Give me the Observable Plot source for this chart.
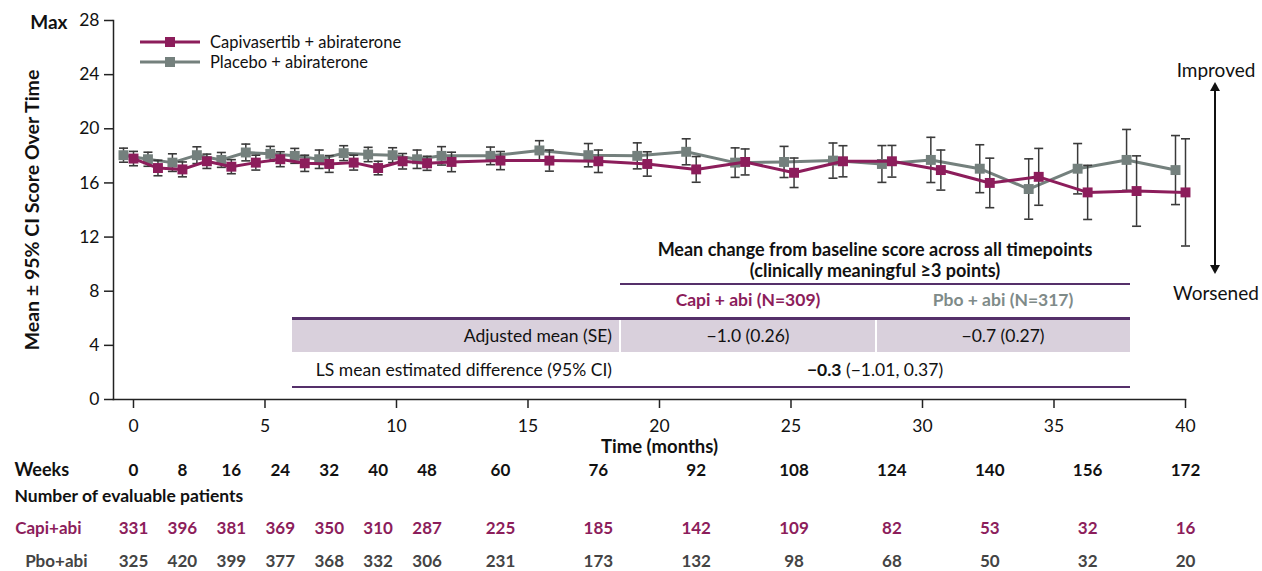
<!DOCTYPE html>
<html><head><meta charset="utf-8">
<script src="https://cdn.jsdelivr.net/npm/d3@7"></script>
<script src="https://cdn.jsdelivr.net/npm/@observablehq/plot@0.6"></script>
<style>
body{margin:0;background:#fff;font-family:Lato,"Open Sans",sans-serif;color:#111;}
#wrap{position:relative;width:1262px;height:571px;overflow:hidden;}
#wrap > svg{position:absolute;left:0;top:0;}
.abs{position:absolute;}
.c{text-align:center;}
</style></head><body><div id="wrap"></div>
<script>
// ---- data ----
const weeks = [0,4,8,12,16,20,24,28,32,36,40,44,48,52,60,68,76,84,92,100,108,116,124,132,140,148,156,164,172];
const capiMean = [17.8,17.1,17.0,17.6,17.2,17.5,17.75,17.45,17.4,17.5,17.1,17.6,17.45,17.55,17.65,17.65,17.6,17.4,17.0,17.55,16.75,17.6,17.6,16.95,16.0,16.45,15.3,15.4,15.3];
const capiHalfCI = [0.53,0.57,0.55,0.53,0.52,0.55,0.55,0.6,0.62,0.55,0.5,0.57,0.52,0.72,0.67,0.78,0.83,0.9,0.95,0.96,1.09,1.15,1.17,1.48,1.83,2.1,2.0,2.6,3.96];
const pboMean = [18.05,17.75,17.5,18.05,17.7,18.25,18.15,18.0,17.75,18.2,18.1,18.05,17.75,18.0,18.0,18.4,18.05,18.0,18.3,17.5,17.55,17.65,17.4,17.7,17.05,15.55,17.05,17.7,16.95];
const pboHalfCI = [0.52,0.52,0.65,0.62,0.55,0.62,0.55,0.55,0.68,0.55,0.53,0.55,0.68,0.68,0.65,0.72,0.86,0.96,0.96,1.09,1.15,1.3,1.36,1.67,1.77,2.23,1.86,2.25,2.55];

const xTicks = [0,5,10,15,20,25,30,35,40];
const yTicks = [0,4,8,12,16,20,24,28];
const labelWeeks = [0,8,16,24,32,40,48,60,76,92,108,124,140,156,172];
const capiN = [331,396,381,369,350,310,287,225,185,142,109,82,53,32,16];
const pboN = [325,420,399,377,368,332,306,231,173,132,98,68,50,32,20];

const seriesNames = ["Capivasertib + abiraterone","Placebo + abiraterone"];
const tableTitle = ["Mean change from baseline score across all timepoints","(clinically meaningful ≥3 points)"];
const tableGroups = ["Capi + abi (N=309)","Pbo + abi (N=317)"];
const tableRowLabels = ["Adjusted mean (SE)","LS mean estimated difference (95% CI)"];
const adjustedMean = ["−1.0 (0.26)","−0.7 (0.27)"];
const lsDiffEstimate = "−0.3";
const lsDiffCI = "(−1.01, 0.37)";

// ---- styles ----
const MAGENTA = "#8c1d5b", GREY = "#74807d", BAR = "#3a3a3a", PURPLE = "#55306a";
const WEEKS_PER_MONTH = 4.3;
const FS = 17;

const rows = (means, cis) => weeks.map((w,i)=>({month: w/WEEKS_PER_MONTH, mean: means[i], lo: means[i]-cis[i], hi: means[i]+cis[i]}));
const capi = rows(capiMean, capiHalfCI);
const pbo = rows(pboMean, pboHalfCI);

const cap = {draw(ctx){ ctx.moveTo(-4.5,0); ctx.lineTo(4.5,0); }};

function seriesMarks(data, color, dx){
  return [
    Plot.ruleX(data, {x:"month", y1:"lo", y2:"hi", stroke:BAR, strokeWidth:1.5, dx}),
    Plot.dot(data, {x:"month", y:"lo", symbol:cap, r:4, stroke:BAR, strokeWidth:1.6, fill:"none", dx}),
    Plot.dot(data, {x:"month", y:"hi", symbol:cap, r:4, stroke:BAR, strokeWidth:1.6, fill:"none", dx}),
    Plot.line(data, {x:"month", y:"mean", stroke:color, strokeWidth:3, dx}),
    Plot.dot(data, {x:"month", y:"mean", symbol:"square", r:5.6, fill:color, stroke:"none", dx})
  ];
}

const wk = labelWeeks.map((w,i)=>({month:w/WEEKS_PER_MONTH, w, c:capiN[i], p:pboN[i]}));
const lab = (t, o) => Plot.text([t], {text:d=>d, lineAnchor:"middle", fontWeight:"bold", fontSize:FS, ...o});

const chart = Plot.plot({
  width:1262, height:571,
  marginLeft:113, marginRight:77, marginTop:20, marginBottom:172,
  x:{domain:[-0.76,40]},
  y:{domain:[0,28]},
  style:{fontFamily:"Lato, 'Open Sans', sans-serif", fontSize:"17px", color:"#111", background:"transparent", overflow:"visible"},
  marks:[
    Plot.axisY({ticks:yTicks, tickSize:9, tickPadding:5, fontSize:17.5, label:null, stroke:"#222", strokeWidth:1.5}),
    Plot.axisX({ticks:xTicks, tickSize:9, tickPadding:11, fontSize:17.5, label:null, stroke:"#222", strokeWidth:1.5}),
    Plot.frame({anchor:"left", stroke:"#222", strokeWidth:1.5}),
    Plot.frame({anchor:"bottom", stroke:"#222", strokeWidth:1.5}),
    ...seriesMarks(pbo, GREY, -10),
    ...seriesMarks(capi, MAGENTA, 0),
    lab("Max", {frameAnchor:"top-left", dx:-46, dy:2, textAnchor:"end", fontSize:19}),
    lab("Mean ± 95% CI Score Over Time", {frameAnchor:"left", dx:-81, rotate:-90, textAnchor:"middle", fontSize:19.5}),
    lab("Time (months)", {frameAnchor:"bottom", dx:10, dy:48, textAnchor:"middle", fontSize:18.5}),
    lab("Weeks", {frameAnchor:"bottom-left", dx:-99, dy:71, textAnchor:"start", fontSize:18}),
    lab("Number of evaluable patients", {frameAnchor:"bottom-left", dx:-99, dy:97, textAnchor:"start", fontSize:17.5}),
    lab("Capi+abi", {frameAnchor:"bottom-left", dx:-32, dy:129, textAnchor:"end", fill:MAGENTA}),
    lab("Pbo+abi", {frameAnchor:"bottom-left", dx:-26, dy:162, textAnchor:"end", fill:"#444"}),
    Plot.text(wk, {x:"month", frameAnchor:"bottom", lineAnchor:"middle", text:"w", dy:71, fontWeight:"bold", fontSize:FS, fill:"#111"}),
    Plot.text(wk, {x:"month", frameAnchor:"bottom", lineAnchor:"middle", text:"c", dy:129, fontWeight:"bold", fontSize:FS, fill:MAGENTA}),
    Plot.text(wk, {x:"month", frameAnchor:"bottom", lineAnchor:"middle", text:"p", dy:162, fontWeight:"bold", fontSize:FS, fill:"#444"})
  ]
});
const wrap = document.getElementById("wrap");
wrap.appendChild(chart);

function el(html){ const d=document.createElement("div"); d.innerHTML=html; const n=d.firstElementChild; wrap.appendChild(n); return n; }

// legend
const legColors = [MAGENTA, GREY];
seriesNames.forEach((name,i)=>{
  el(`<div class="abs" style="left:140px;top:32px;height:20px;display:flex;align-items:center;transform:translateY(${i*20}px)">
    <svg width="62" height="14" style="display:block"><line x1="0" y1="7" x2="60" y2="7" stroke="${legColors[i]}" stroke-width="3"/><rect x="25" y="2" width="10" height="10" fill="${legColors[i]}"/></svg>
    <span style="margin-left:8px;font-size:16.5px;">${name}</span></div>`);
});

// improved / worsened
el(`<div class="abs c" style="left:1156px;width:120px;top:58px;font-size:19px;line-height:24px;">Improved</div>`);
el(`<div class="abs c" style="left:1156px;width:120px;top:281px;font-size:19px;line-height:24px;">Worsened</div>`);
el(`<svg class="abs" style="left:1205px;top:82px" width="20" height="192"><line x1="10" y1="6" x2="10" y2="186" stroke="#111" stroke-width="2"/><polygon points="10,0 5,9 15,9" fill="#111"/><polygon points="10,192 5,183 15,183" fill="#111"/></svg>`);

// summary table
el(`<div class="abs c" style="left:620px;width:510px;top:239px;font-size:18px;font-weight:bold;line-height:21px;white-space:nowrap;">${tableTitle[0]}<br>${tableTitle[1]}</div>`);
el(`<div class="abs" style="left:620px;width:510px;top:283px;height:2px;background:${PURPLE};"></div>`);
el(`<div class="abs c" style="left:620px;width:256px;top:288px;font-size:17.5px;font-weight:bold;line-height:24px;color:${MAGENTA};">${tableGroups[0]}</div>`);
el(`<div class="abs c" style="left:876px;width:254px;top:288px;font-size:17.5px;font-weight:bold;line-height:24px;color:#7f8b89;">${tableGroups[1]}</div>`);
el(`<div class="abs" style="left:292px;width:838px;top:317px;height:3px;background:${PURPLE};"></div>`);
el(`<div class="abs" style="left:292px;width:838px;top:320px;height:32px;background:#d9d0dc;"></div>`);
el(`<div class="abs" style="left:619px;width:2px;top:320px;height:32px;background:#fff;"></div>`);
el(`<div class="abs" style="left:875px;width:2px;top:320px;height:32px;background:#fff;"></div>`);
el(`<div class="abs" style="left:292px;width:320px;top:324px;font-size:17.5px;line-height:24px;text-align:right;">${tableRowLabels[0]}</div>`);
el(`<div class="abs c" style="left:620px;width:256px;top:324px;font-size:17.5px;line-height:24px;">${adjustedMean[0]}</div>`);
el(`<div class="abs c" style="left:876px;width:254px;top:324px;font-size:17.5px;line-height:24px;">${adjustedMean[1]}</div>`);
el(`<div class="abs" style="left:292px;width:320px;top:358px;font-size:17.5px;line-height:24px;text-align:right;white-space:nowrap;">${tableRowLabels[1]}</div>`);
el(`<div class="abs c" style="left:620px;width:510px;top:358px;font-size:17.5px;line-height:24px;"><b>${lsDiffEstimate}</b> ${lsDiffCI}</div>`);
el(`<div class="abs" style="left:292px;width:838px;top:386px;height:2px;background:${PURPLE};"></div>`);
</script></body></html>
